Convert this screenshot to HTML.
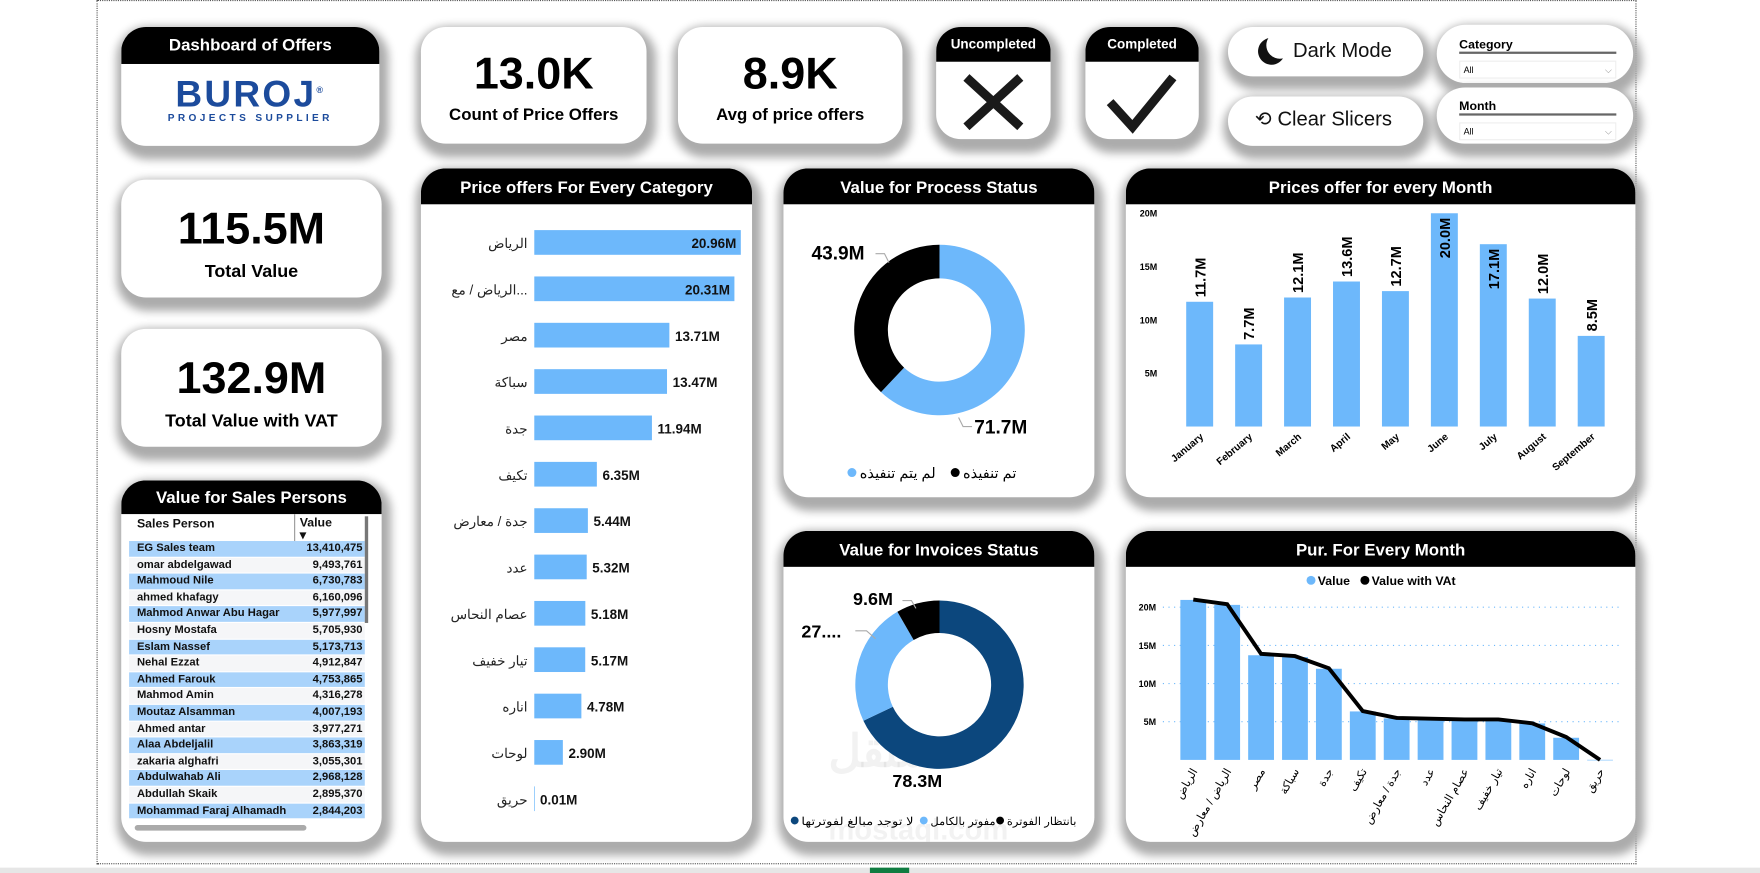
<!DOCTYPE html>
<html><head><meta charset="utf-8">
<style>
html,body{margin:0;padding:0;width:1760px;height:873px;overflow:hidden;background:#fff;font-family:"Liberation Sans","Noto Sans CJK SC",sans-serif}
#wrap{position:absolute;left:0;top:0;width:1568px;height:778px;transform:scale(1.12245);transform-origin:0 0;background:#fff}
.card{position:absolute;background:#fff;border-radius:22px;box-shadow:2px 6px 8px 6px #acacac;overflow:hidden}
.hdr{background:#000;color:#fff;font-weight:bold;text-align:center;font-size:15px}
.big{font-weight:bold;text-align:center;color:#000}
.abs{position:absolute}
svg text{font-family:"Liberation Sans","Noto Sans CJK SC",sans-serif}
</style></head><body>
<div id="wrap">
<div class="abs" style="left:86px;top:0;width:1372px;height:770px;border:1px dotted #555;box-sizing:border-box"></div>
<div class="abs" style="left:0;top:773px;width:1568px;height:5px;background:#e6e6e6"></div>
<div class="abs" style="left:775px;top:773px;width:35px;height:5px;background:#107c41"></div>

<div class="card" style="left:108px;top:24px;width:230px;height:106px">
 <div class="hdr" style="height:33px;line-height:33px;font-size:15px">Dashboard of Offers</div>
 <div style="text-align:center;color:#1c4b9c;font-weight:900;font-size:33px;letter-spacing:2px;margin-top:8px;line-height:32px">BUROJ<sup style="font-size:8px">®</sup></div>
 <div style="text-align:center;color:#1c4b9c;font-size:9px;letter-spacing:3px;font-weight:bold">PROJECTS SUPPLIER</div>
</div>
<div class="card" style="left:375px;top:24px;width:201px;height:104px">
 <div class="big" style="font-size:40px;margin-top:20px;line-height:44px">13.0K</div>
 <div class="big" style="font-size:15px;margin-top:6px">Count of Price Offers</div>
</div>
<div class="card" style="left:604px;top:24px;width:200px;height:104px">
 <div class="big" style="font-size:40px;margin-top:20px;line-height:44px">8.9K</div>
 <div class="big" style="font-size:15px;margin-top:6px">Avg of price offers</div>
</div>
<div class="card" style="left:834px;top:24px;width:102px;height:100px">
 <div class="hdr" style="height:31px;line-height:31px;font-size:12px">Uncompleted</div>
 <svg width="102" height="69"><path d="M27 14 L75 58 M75 14 L27 58" stroke="#1a1a1a" stroke-width="8"/></svg>
</div>
<div class="card" style="left:967px;top:24px;width:101px;height:100px">
 <div class="hdr" style="height:31px;line-height:31px;font-size:12px">Completed</div>
 <svg width="101" height="69"><path d="M22 36 L42 58 L78 14" stroke="#1a1a1a" stroke-width="8" fill="none"/></svg>
</div>
<div class="card" style="left:1094px;top:24px;width:174px;height:44px;border-radius:24px">
 <svg class="abs" style="left:22px;top:8px" width="28" height="28"><path d="M14 2 A12 12 0 1 0 27 20 A12 12 0 0 1 14 2Z" fill="#111"/></svg>
 <div class="abs" style="left:58px;top:11px;font-size:18px;color:#111">Dark Mode</div>
</div>
<div class="card" style="left:1094px;top:86px;width:174px;height:44px;border-radius:24px">
 <div class="abs" style="left:24px;top:10px;font-size:18px;color:#111">⟲ Clear Slicers</div>
</div>
<div class="card" style="left:1280px;top:22px;width:175px;height:52px;border-radius:26px">
 <div class="abs" style="left:20px;top:12px;font-size:11px;font-weight:bold;width:140px;border-bottom:2px solid #666">Category</div>
 <div class="abs" style="left:20px;top:32px;width:140px;height:16px;border:1px solid #eee;font-size:8px;line-height:16px;padding-left:3px;box-sizing:border-box">All<span style="float:right;margin-right:3px;color:#888">⌵</span></div>
</div>
<div class="card" style="left:1280px;top:78px;width:175px;height:50px;border-radius:26px">
 <div class="abs" style="left:20px;top:11px;font-size:11px;font-weight:bold;width:140px;border-bottom:2px solid #666">Month</div>
 <div class="abs" style="left:20px;top:31px;width:140px;height:16px;border:1px solid #eee;font-size:8px;line-height:16px;padding-left:3px;box-sizing:border-box">All<span style="float:right;margin-right:3px;color:#888">⌵</span></div>
</div>

<div class="card" style="left:108px;top:160px;width:232px;height:105px">
 <div class="big" style="font-size:40px;margin-top:22px;line-height:44px">115.5M</div>
 <div class="big" style="font-size:16px;margin-top:8px">Total Value</div>
</div>
<div class="card" style="left:108px;top:293px;width:232px;height:105px">
 <div class="big" style="font-size:40px;margin-top:22px;line-height:44px">132.9M</div>
 <div class="big" style="font-size:16px;margin-top:8px">Total Value with VAT</div>
</div>

<div class="card" style="left:108px;top:428px;width:232px;height:322px">
 <div class="hdr" style="height:30px;line-height:32px;font-size:15px">Value for Sales Persons</div>
 <div id="tbl" class="abs" style="left:7px;top:30px;width:210px;height:285px;font-size:10px;font-weight:bold;color:#111"></div>
 <div class="abs" style="left:217px;top:32px;width:3px;height:95px;background:#777"></div>
 <div class="abs" style="left:12px;top:307px;width:153px;height:5px;background:#aaa;border-radius:3px"></div>
</div>

<div class="card" style="left:375px;top:150px;width:295px;height:600px">
 <div class="hdr" style="height:32px;line-height:36px">Price offers For Every Category</div>
 <svg id="cat" class="abs" style="left:0;top:0" width="295" height="600"></svg>
</div>
<div class="card" style="left:698px;top:150px;width:277px;height:293px">
 <div class="hdr" style="height:32px;line-height:36px">Value for Process Status</div>
 <svg id="proc" class="abs" style="left:0;top:0" width="277" height="293"></svg>
</div>
<div class="card" style="left:1003px;top:150px;width:454px;height:293px">
 <div class="hdr" style="height:32px;line-height:36px">Prices offer for every Month</div>
 <svg id="mon" class="abs" style="left:0;top:0" width="454" height="293"></svg>
</div>
<div class="card" style="left:698px;top:473px;width:277px;height:277px">
 <div class="hdr" style="height:32px;line-height:36px">Value for Invoices Status</div>
 <svg id="inv" class="abs" style="left:0;top:0" width="277" height="277"></svg>
</div>
<div class="card" style="left:1003px;top:473px;width:454px;height:277px">
 <div class="hdr" style="height:32px;line-height:36px">Pur. For Every Month</div>
 <svg id="pur" class="abs" style="left:0;top:0" width="454" height="277"></svg>
</div>
</div>

<script>
const salesNames=["EG Sales team","omar abdelgawad","Mahmoud Nile","ahmed khafagy","Mahmod Anwar Abu Hagar","Hosny Mostafa","Eslam Nassef","Nehal Ezzat","Ahmed Farouk","Mahmod Amin","Moutaz Alsamman","Ahmed antar","Alaa Abdeljalil","zakaria alghafri","Abdulwahab Ali","Abdullah Skaik","Mohammad Faraj Alhamadh"];
const salesValues=["13,410,475","9,493,761","6,730,783","6,160,096","5,977,997","5,705,930","5,173,713","4,912,847","4,753,865","4,316,278","4,007,193","3,977,271","3,863,319","3,055,301","2,968,128","2,895,370","2,844,203"];
const catNames=["الرياض","الرياض / مع...","مصر","سباكة","جدة","تكيف","جدة / معارض","عدد","عصام النحاس","تيار خفيف","اناره","لوحات","حريق"];
const catValues=[20.96,20.31,13.71,13.47,11.94,6.35,5.44,5.32,5.18,5.17,4.78,2.90,0.01];
const procLabels=["لم يتم تنفيذه","تم تنفيذه"];
const procValues=[71.7,43.9];
const invLabels=["لا توجد مبالغ لفوترتها","مفوتر بالكامل","بانتظار الفوترة"];
const invValues=[78.3,27.3,9.6];
const invText=["78.3M","27....","9.6M"];
const months=["January","February","March","April","May","June","July","August","September"];
const monthValues=[11.7,7.7,12.1,13.6,12.7,20.0,17.1,12.0,8.5];
const monthTicks=[5,10,15,20];
const purNames=["الرياض","الرياض / معارض","مصر","سباكة","جدة","تكيف","جدة / معارض","عدد","عصام النحاس","تيار خفيف","اناره","لوحات","حريق"];
const purValues=[20.96,20.31,13.71,13.47,11.94,6.35,5.44,5.32,5.18,5.17,4.78,2.90,0.01];
const purVat=[21.0,20.4,13.9,13.6,12.0,6.4,5.5,5.4,5.3,5.3,4.8,3.0,0.0];
const purTicks=[5,10,15,20];

const NS="http://www.w3.org/2000/svg";
function mk(p,tag,a,txt){const e=document.createElementNS(NS,tag);for(const k in a)e.setAttribute(k,a[k]);if(txt!==undefined)e.textContent=txt;p.appendChild(e);return e;}

const tbl=document.getElementById('tbl');
tbl.innerHTML='<div style="position:absolute;left:0;top:0;width:210px;height:24px;font-size:11px"><span style="position:absolute;left:7px;top:3px">Sales Person</span><span style="position:absolute;left:147px;top:0;height:24px;border-left:1px solid #999;padding-left:4px;line-height:11px;padding-top:3px">Value<br>▾</span></div>';
salesNames.forEach((n,i)=>{
 const r=document.createElement('div');
 
 
 r.style.cssText=`position:absolute;left:0;top:${24+i*14.6}px;width:210px;height:13.6px;line-height:13.6px;background:${i%2?'#f5f6f8':'#a9d3fb'}`;
 r.innerHTML=`<span style="position:absolute;left:7px">${n}</span><span style="position:absolute;right:2px">${salesValues[i]}</span>`;
 tbl.appendChild(r);
});

(function(){
 const s=document.getElementById('cat');const x0=101,scale=184/20.96,y0=66,step=41.3;
 catNames.forEach((c,i)=>{
  const y=y0+i*step, w=catValues[i]*scale;
  const t=mk(s,'text',{x:95,y:y+5,'text-anchor':'end','font-size':12,fill:'#222'},c);
  
  
  const b=mk(s,'rect',{x:x0,y:y-11,width:Math.max(w,0.6),height:22,fill:'#6db8fb'});
  
  
  const inside=w>170;
  const v=mk(s,'text',{x:inside?x0+w-4:x0+w+5,y:y+5,'text-anchor':inside?'end':'start','font-size':12,'font-weight':'bold',fill:'#111'},catValues[i].toFixed(2)+'M');
  
  
 });
})();

function arc(cx,cy,R,r,a0,a1){
 const p=(a,rad)=>[cx+rad*Math.sin(a),cy-rad*Math.cos(a)];
 const L=(a1-a0)>Math.PI?1:0;
 const [x1,y1]=p(a0,R),[x2,y2]=p(a1,R),[x3,y3]=p(a1,r),[x4,y4]=p(a0,r);
 return `M${x1} ${y1} A${R} ${R} 0 ${L} 1 ${x2} ${y2} L${x3} ${y3} A${r} ${r} 0 ${L} 0 ${x4} ${y4}Z`;
}
(function(){
 const s=document.getElementById('proc');const cx=139,cy=144,cols=['#6db8fb','#000'];
 const tot=procValues.reduce((a,b)=>a+b,0);let a=0;
 procValues.forEach((v,i)=>{const da=v/tot*2*Math.PI;
  const p=mk(s,'path',{d:arc(cx,cy,76,46,a,a+da),fill:cols[i]});
  
  
  a+=da;});
 mk(s,'text',{x:25,y:81,'font-size':17,'font-weight':'bold'},procValues[1]+'M');
 mk(s,'path',{d:'M82 76 H90 L94 84',stroke:'#aaa',fill:'none'});
 mk(s,'text',{x:170,y:236,'font-size':17,'font-weight':'bold'},procValues[0]+'M');
 mk(s,'path',{d:'M156 222 L160 230 H168',stroke:'#aaa',fill:'none'});
 mk(s,'circle',{cx:61,cy:271,r:4,fill:cols[0]});
 mk(s,'text',{x:68,y:276,'font-size':13},procLabels[0]);
 mk(s,'circle',{cx:153,cy:271,r:4,fill:cols[1]});
 mk(s,'text',{x:160,y:276,'font-size':13},procLabels[1]);
})();
(function(){
 const s=document.getElementById('inv');const cx=139,cy=137,cols=['#0c477d','#6db8fb','#000'];
 mk(s,'text',{x:40,y:210,'font-size':40,'font-weight':'bold',fill:'#000','fill-opacity':0.05},'مستقل');
 mk(s,'text',{x:40,y:275,'font-size':26,'font-weight':'bold',fill:'#000','fill-opacity':0.05},'mostaql.com');
 const tot=invValues.reduce((a,b)=>a+b,0);let a=0;
 invValues.forEach((v,i)=>{const da=v/tot*2*Math.PI;
  const p=mk(s,'path',{d:arc(cx,cy,75,46,a,a+da),fill:cols[i]});
  
  
  a+=da;});
 mk(s,'text',{x:97,y:228,'font-size':16,'font-weight':'bold'},invText[0]);
 mk(s,'text',{x:16,y:95,'font-size':16,'font-weight':'bold'},invText[1]);
 mk(s,'path',{d:'M64 89 H74 L82 96',stroke:'#aaa',fill:'none'});
 mk(s,'text',{x:62,y:66,'font-size':16,'font-weight':'bold'},invText[2]);
 mk(s,'path',{d:'M106 62 H114 L118 69',stroke:'#aaa',fill:'none'});
 const lx=[7,122,190],lw=[100,58,62];
 invLabels.forEach((l,i)=>{mk(s,'circle',{cx:lx[i]+3,cy:258,r:3.5,fill:cols[i]});
  mk(s,'text',{x:lx[i]+9,y:262,'font-size':10,textLength:lw[i],lengthAdjust:'spacingAndGlyphs'},l);});
})();
(function(){
 const s=document.getElementById('mon');const yb=230,k=9.5,x0=44,band=43.6,bw=24;
 const Y=v=>yb-v*k;
 monthTicks.forEach(t=>mk(s,'text',{x:28,y:Y(t)+3,'font-size':8,'font-weight':'bold','text-anchor':'end'},t+'M'));
 months.forEach((m,i)=>{
  const cx=x0+band*(i+0.5),v=monthValues[i];
  const b=mk(s,'rect',{x:cx-bw/2,y:Y(v),width:bw,height:v*k,fill:'#6db8fb'});
  
  
  const inside=v>15;const ly=inside?Y(v)+4:Y(v)-4;
  mk(s,'text',{x:cx+5,y:ly,'font-size':13,'font-weight':'bold','text-anchor':inside?'end':'start',transform:`rotate(-90 ${cx+5} ${ly})`},v.toFixed(1)+'M');
  mk(s,'text',{x:cx+4,y:yb+10,'font-size':9,'font-weight':'bold','text-anchor':'end',transform:`rotate(-40 ${cx+4} ${yb+10})`},m);
 });
})();
(function(){
 const s=document.getElementById('pur');const yb=204,k=6.8,x0=45,band=30.2,bw=23;
 const Y=v=>yb-v*k;
 mk(s,'circle',{cx:165,cy:44,r:4,fill:'#6db8fb'});
 mk(s,'text',{x:171,y:48,'font-size':11,'font-weight':'bold'},'Value');
 mk(s,'circle',{cx:213,cy:44,r:4,fill:'#000'});
 mk(s,'text',{x:219,y:48,'font-size':11,'font-weight':'bold'},'Value with VAt');
 purTicks.forEach(t=>{mk(s,'text',{x:27,y:Y(t)+3,'font-size':8,'font-weight':'bold','text-anchor':'end'},t+'M');
  mk(s,'line',{x1:33,x2:440,y1:Y(t),y2:Y(t),stroke:'#6db8fb','stroke-dasharray':'1 4','stroke-width':1});});
 let pts=[];
 purNames.forEach((n,i)=>{
  const cx=x0+band*(i+0.5),v=purValues[i];
  const b=mk(s,'rect',{x:cx-bw/2,y:Y(v),width:bw,height:Math.max(v*k,0.5),fill:'#6db8fb'});
  
  
  pts.push((cx)+','+Y(purVat[i]));
  mk(s,'text',{x:cx+4,y:yb+10,'font-size':10,'text-anchor':'end',transform:`rotate(-60 ${cx+4} ${yb+10})`},n);
 });
 const l=mk(s,'polyline',{points:pts.join(' '),fill:'none',stroke:'#000','stroke-width':3.5});
 
 
})();
</script>
</body></html>
